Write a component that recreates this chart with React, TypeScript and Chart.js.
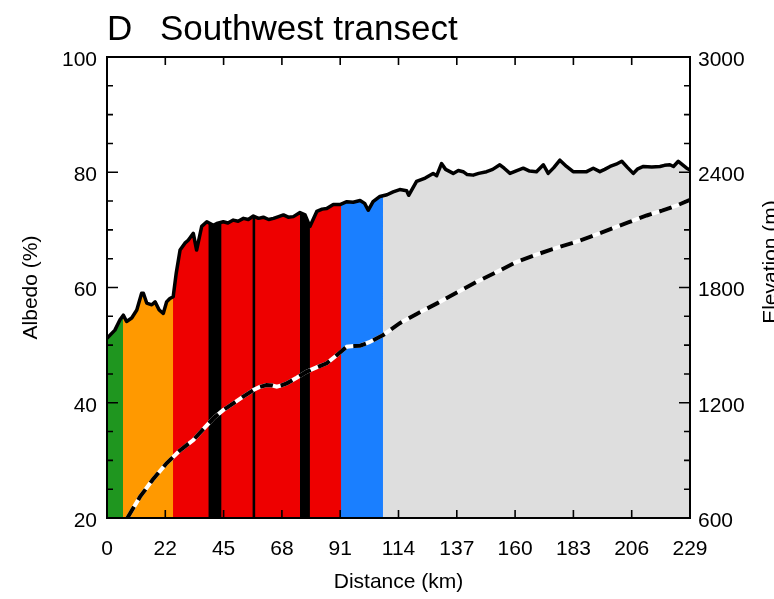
import React, { useEffect, useRef } from "react";
import { Chart, registerables } from "chart.js";
Chart.register(...registerables);

const FONT = "'Liberation Sans', Arial, Helvetica, sans-serif";

const TITLE_LETTER = "D";
const TITLE_TEXT = "Southwest transect";
const X_TITLE = "Distance (km)";
const Y_TITLE = "Albedo (%)";
const Y2_TITLE = "Elevation (m)";

// Distance ticks (km) and their printed labels
const DIST_TICKS = [0, 22.9, 45.8, 68.7, 91.6, 114.5, 137.4, 160.3, 183.2, 206.1, 229];
const DIST_LABELS = ["0", "22", "45", "68", "91", "114", "137", "160", "183", "206", "229"];

// Albedo profile
const DIST = [0, 3.1, 5.1, 6.4, 7.7, 9.7, 11.7, 13.6, 14.3, 15.6, 17.6, 18.9, 20.5, 22.1, 23.4, 24.7, 26, 27.2, 28.7, 30.6, 31.9, 33.9, 35.2, 37.2, 39.2, 41.8, 43.1, 45.7, 47.5, 49.6, 51.5, 53.6, 55.5, 57.5, 59.5, 61.4, 63.5, 65.4, 67.4, 69.3, 71.2, 73.2, 75.8, 77.8, 79.7, 82.4, 84.5, 86.3, 88.9, 91.5, 94.2, 96.7, 99.4, 101.2, 102.6, 104.5, 107.2, 110, 112.4, 115, 117.7, 118.5, 121.6, 125, 128.1, 129.5, 131.4, 133, 136, 138, 139.9, 141.5, 143.8, 146, 149.1, 151.5, 154.3, 156, 158.3, 161, 163.5, 166, 168.7, 171.4, 173.3, 175.5, 177.9, 180.5, 183.1, 185.5, 188.4, 191, 193.6, 195.5, 197.6, 200, 202.2, 204.5, 206.7, 208.5, 210.7, 214, 217.2, 219, 221.1, 222.5, 224.4, 227.7, 229];
const ALBEDO = [51.2, 52.6, 54.4, 55.2, 54.1, 54.7, 56.1, 59.0, 59.0, 57.3, 57.0, 57.5, 56.1, 55.5, 57.5, 58.1, 58.4, 62.5, 66.5, 67.7, 68.2, 69.4, 66.5, 70.6, 71.4, 70.8, 71.1, 71.4, 71.2, 71.7, 71.5, 72.0, 71.8, 72.4, 72.0, 72.2, 71.8, 72.0, 72.3, 72.6, 72.2, 72.3, 73.0, 72.6, 70.6, 73.2, 73.6, 73.7, 74.4, 74.4, 74.9, 74.8, 75.1, 74.6, 73.4, 74.9, 75.8, 76.1, 76.6, 77.0, 76.8, 76.0, 78.4, 79.0, 79.8, 79.4, 81.5, 80.5, 79.8, 80.3, 80.1, 79.6, 79.5, 79.8, 80.1, 80.5, 81.3, 80.7, 79.8, 80.3, 80.7, 80.2, 80.1, 81.3, 79.8, 80.8, 82.1, 81.0, 80.1, 80.1, 80.1, 80.7, 80.1, 80.5, 81.0, 81.4, 81.9, 80.8, 79.8, 80.6, 81.0, 80.9, 81.0, 81.2, 81.3, 81.0, 81.9, 80.7, 80.4];

// Elevation profile
const ELEV_DIST = [8, 13, 18, 23.4, 28.5, 33.9, 38, 41.8, 45.5, 49.6, 53.5, 57.5, 60, 62.7, 65, 66.7, 68.5, 70.6, 74.5, 78.5, 82.5, 86.3, 90, 94.2, 97, 99.4, 103, 108.5, 115, 122, 130, 138, 145, 153, 160, 168, 175, 183, 190, 198, 205, 212, 218, 224, 229];
const ELEV = [600, 711, 800, 885, 950, 1006, 1065, 1119, 1160, 1197, 1232, 1266, 1282, 1292, 1290, 1284, 1290, 1301, 1330, 1362, 1385, 1405, 1445, 1492, 1495, 1497, 1515, 1553, 1614, 1665, 1720, 1778, 1828, 1880, 1928, 1968, 2000, 2032, 2065, 2105, 2140, 2175, 2200, 2228, 2256];

// Surface zones: upper bound of each zone (km) and colour
const ZONE_END = [6.3, 26, 92, 108.4, 229];
const ZONE_COLORS = ["#1f961f", "#ff9900", "#ee0000", "#1a7fff", "#dedede"];
// Dark bands within the red zone
const BAND_START = [39.8, 57.1, 75.8];
const BAND_END = [45.0, 58.3, 79.7];

function interp(xs: number[], ys: number[], x: number): number {
  if (x <= xs[0]) return ys[0];
  for (let i = 1; i < xs.length; i++) {
    if (x <= xs[i]) {
      const t = (x - xs[i - 1]) / (xs[i] - xs[i - 1]);
      return ys[i - 1] + t * (ys[i] - ys[i - 1]);
    }
  }
  return ys[ys.length - 1];
}

function sliceAlbedo(x0: number, x1: number) {
  const pts = [{ x: x0, y: interp(DIST, ALBEDO, x0) }];
  DIST.forEach((d, i) => {
    if (d > x0 && d < x1) pts.push({ x: d, y: ALBEDO[i] });
  });
  pts.push({ x: x1, y: interp(DIST, ALBEDO, x1) });
  return pts;
}

const decorPlugin = {
  id: "decor",
  afterDraw(chart: any) {
    const { ctx, chartArea: a, scales } = chart;
    const xs = scales.x, ys = scales.y, y2 = scales.y2;
    ctx.save();
    ctx.strokeStyle = "#000";
    ctx.lineWidth = 2;
    ctx.strokeRect(a.left, a.top, a.right - a.left, a.bottom - a.top);
    ctx.lineWidth = 1.6;
    ctx.beginPath();
    DIST_TICKS.forEach((v) => {
      const px = xs.getPixelForValue(v);
      ctx.moveTo(px, a.bottom);
      ctx.lineTo(px, a.bottom - 8);
      ctx.moveTo(px, a.top);
      ctx.lineTo(px, a.top + 8);
    });
    for (let v = 20; v <= 100; v += 5) {
      const py = ys.getPixelForValue(v);
      const len = v % 20 === 0 ? 11 : 6;
      ctx.moveTo(a.left, py);
      ctx.lineTo(a.left + len, py);
    }
    for (let v = 600; v <= 3000; v += 150) {
      const py = y2.getPixelForValue(v);
      const len = v % 600 === 0 ? 11 : 6;
      ctx.moveTo(a.right, py);
      ctx.lineTo(a.right - len, py);
    }
    ctx.stroke();

    ctx.fillStyle = "#000";
    ctx.font = `35px ${FONT}`;
    ctx.textBaseline = "alphabetic";
    ctx.textAlign = "left";
    ctx.fillText(TITLE_LETTER, a.left, 40);
    ctx.fillText(TITLE_TEXT, a.left + 53, 40);

    ctx.font = `21px ${FONT}`;
    ctx.textAlign = "center";
    ctx.textBaseline = "middle";
    ctx.fillText(X_TITLE, (a.left + a.right) / 2, 582);

    ctx.save();
    ctx.translate(31, (a.top + a.bottom) / 2);
    ctx.rotate(-Math.PI / 2);
    ctx.fillText(Y_TITLE, 0, 0);
    ctx.restore();

    ctx.save();
    ctx.translate(771, 262);
    ctx.rotate(-Math.PI / 2);
    ctx.fillText(Y2_TITLE, 0, 0);
    ctx.restore();
    ctx.restore();
  },
};

export default function App() {
  const ref = useRef<HTMLCanvasElement | null>(null);

  useEffect(() => {
    if (!ref.current) return;
    const fillSets: any[] = [];
    BAND_START.forEach((s, i) => {
      fillSets.push({
        data: sliceAlbedo(s, BAND_END[i]),
        fill: "start",
        backgroundColor: "#000",
        borderColor: "rgba(0,0,0,0)",
        borderWidth: 0,
        pointRadius: 0,
      });
    });
    ZONE_END.forEach((e, i) => {
      fillSets.push({
        data: sliceAlbedo(0, e),
        fill: "start",
        backgroundColor: ZONE_COLORS[i],
        borderColor: "rgba(0,0,0,0)",
        borderWidth: 0,
        pointRadius: 0,
      });
    });

    const elevPts = ELEV_DIST.map((d, i) => ({ x: d, y: ELEV[i] }));
    const albPts = DIST.map((d, i) => ({ x: d, y: ALBEDO[i] }));

    const chart = new Chart(ref.current, {
      type: "line",
      data: {
        datasets: [
          {
            data: elevPts,
            yAxisID: "y2",
            borderColor: "#000",
            borderWidth: 4,
            borderDash: [13, 8],
            borderCapStyle: "butt",
            pointRadius: 0,
            fill: false,
          },
          {
            data: elevPts,
            yAxisID: "y2",
            borderColor: "#fff",
            borderWidth: 4,
            pointRadius: 0,
            fill: false,
          },
          {
            data: albPts,
            borderColor: "#000",
            borderWidth: 3.5,
            borderJoinStyle: "round",
            pointRadius: 0,
            fill: false,
          },
          ...fillSets,
        ] as any,
      },
      options: {
        responsive: false,
        animation: false,
        parsing: false as any,
        layout: { padding: { top: 57, left: 0, right: 0, bottom: 0 } },
        plugins: {
          legend: { display: false },
          tooltip: { enabled: false },
          title: { display: false },
        },
        elements: { line: { tension: 0 } },
        scales: {
          x: {
            type: "linear",
            position: "bottom",
            min: 0,
            max: 229,
            grid: { display: false, drawTicks: false },
            border: { display: false },
            afterBuildTicks: (s: any) => {
              s.ticks = DIST_TICKS.map((v) => ({ value: v }));
            },
            afterFit: (s: any) => {
              s.height = 81;
            },
            ticks: {
              autoSkip: false,
              maxRotation: 0,
              padding: 19,
              color: "#000",
              font: { family: FONT, size: 21 },
              callback: (_v: any, i: number) => DIST_LABELS[i],
            },
          },
          y: {
            type: "linear",
            position: "left",
            min: 20,
            max: 100,
            grid: { display: false, drawTicks: false },
            border: { display: false },
            afterFit: (s: any) => {
              s.width = 107;
            },
            ticks: {
              stepSize: 20,
              padding: 10,
              labelOffset: 3,
              color: "#000",
              font: { family: FONT, size: 21 },
              callback: (v: any) => String(v),
            },
          },
          y2: {
            type: "linear",
            position: "right",
            min: 600,
            max: 3000,
            grid: { display: false, drawTicks: false },
            border: { display: false },
            afterFit: (s: any) => {
              s.width = 84;
            },
            ticks: {
              stepSize: 600,
              padding: 8,
              labelOffset: 3,
              color: "#000",
              font: { family: FONT, size: 21 },
              callback: (v: any) => String(v),
            },
          },
        },
      } as any,
      plugins: [decorPlugin],
    });
    return () => chart.destroy();
  }, []);

  return (
    <div style={{ position: "absolute", left: 0, top: 0, width: 774, height: 599, background: "#fff" }}>
      <canvas ref={ref} width={774} height={599} style={{ display: "block", width: 774, height: 599 }} />
    </div>
  );
}
